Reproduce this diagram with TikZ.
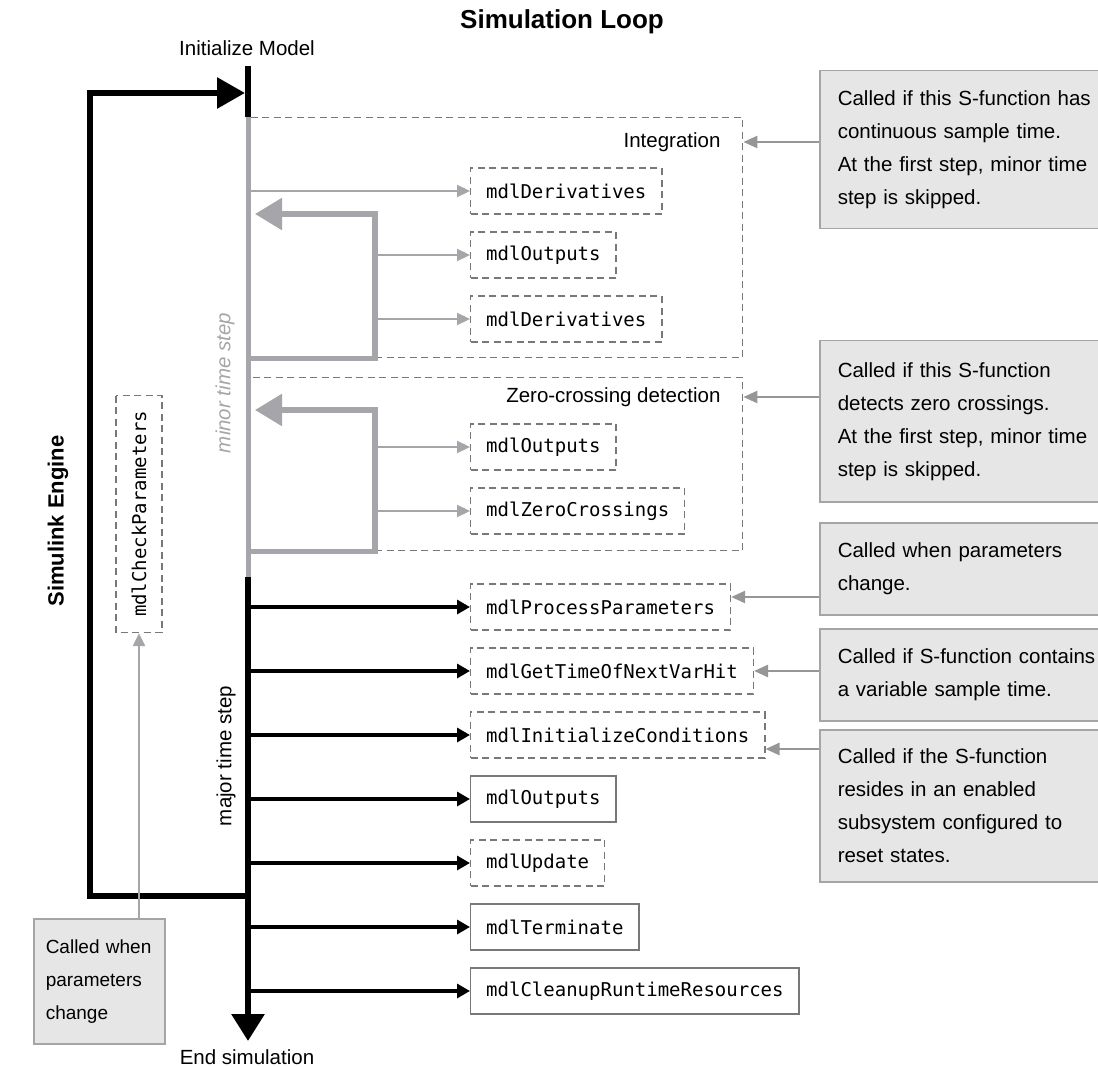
\documentclass[tikz,border=0pt]{standalone}
\usepackage{fontspec}
\setmainfont{Liberation Sans}
\setmonofont{DejaVu Sans Mono}
\usetikzlibrary{arrows.meta}
\definecolor{lgray}{RGB}{166,166,170}
\definecolor{dgray}{RGB}{120,120,120}
\definecolor{ngray}{RGB}{150,150,150}
\definecolor{nfill}{RGB}{230,230,230}
\definecolor{nline}{RGB}{165,165,165}

\begin{document}
\begin{tikzpicture}[x=1pt,y=-1pt,
  every node/.style={font=\fontsize{20.5}{24}\selectfont},
  fbox/.style={draw=dgray, line width=1.4pt, dash pattern=on 7pt off 4.5pt, anchor=west,
    minimum height=46pt, inner xsep=15.5pt, font=\fontsize{19}{22}\ttfamily},
  fboxs/.style={fbox, solid},
  region/.style={draw=dgray, line width=1.4pt, dash pattern=on 7pt off 4.5pt,
    anchor=north west, minimum width=494pt, inner sep=0pt},
  notebox/.style={draw=nline, fill=nfill, line width=1.5pt, anchor=north west, align=left,
    text width=262pt, inner xsep=18pt, font=\fontsize{20.5}{33}\selectfont},
  barrow/.style={line width=3.2pt, -{Triangle[length=13pt,width=14pt]}},
  garrow/.style={lgray, line width=2.2pt, -{Triangle[length=13pt,width=12pt]}},
  narrow/.style={ngray, line width=2.5pt, -{Triangle[length=14pt,width=12pt]}},
  gloop/.style={lgray, line width=5.5pt, -{Triangle[length=27pt,width=31pt]}, shorten >=7pt},
  bigline/.style={line width=6pt},
]
    \useasboundingbox (0,0) rectangle (1098,1067);

    \node[font=\bfseries\fontsize{26}{30}\selectfont] (title) at (562,22) {Simulation Loop};
    \node (init) at (247,48) {Initialize Model};
    \node (endsim) at (247,1057) {End simulation};
    \node[rotate=90, font=\bfseries\fontsize{22}{26}\selectfont] (engine) at (58,521) {Simulink Engine};
    \node[rotate=90, lgray, font=\itshape\fontsize{20.5}{24}\selectfont] (minor) at (225,383) {minor time step};
    \node[rotate=90] (major) at (226,756) {major time step};

    \coordinate (top) at (248,66);
    \coordinate (g1) at (248,117);
    \coordinate (g2) at (248,577);
    \coordinate (bot) at (248,1041);
    \coordinate (ret) at (248,896);
    \coordinate (cnr) at (90,93);
    \coordinate (c1) at (375,214);
    \coordinate (c2) at (375,410);

    \node[region, minimum height=240pt] (integ) at (248,117) {};
    \node[anchor=east] (intl) at (724,142) {Integration};
    \node[region, minimum height=173pt] (zc) at (248,377) {};
    \node[anchor=east] (zcl) at (724,397) {Zero-crossing detection};

    \node[fbox] (d1) at (470,191) {mdlDerivatives};
    \node[fbox] (o1) at (470,255) {mdlOutputs};
    \node[fbox] (d2) at (470,319) {mdlDerivatives};
    \node[fbox] (o2) at (470,447) {mdlOutputs};
    \node[fbox] (zx) at (470,511) {mdlZeroCrossings};
    \node[fbox] (pp) at (470,607) {mdlProcessParameters};
    \node[fbox] (gt) at (470,671) {mdlGetTimeOfNextVarHit};
    \node[fbox] (ic) at (470,735) {mdlInitializeConditions};
    \node[fboxs] (o3) at (470,799) {mdlOutputs};
    \node[fbox] (up) at (470,863) {mdlUpdate};
    \node[fboxs] (tm) at (470,927) {mdlTerminate};
    \node[fboxs] (cl) at (470,991) {mdlCleanupRuntimeResources};
    \node[fbox, rotate=90, anchor=center] (cp) at (139,514) {mdlCheckParameters};

    \node[notebox, minimum height=158pt] (n1) at (819,70) {Called if this S-function has\\continuous sample time.\\At the first step, minor time\\step is skipped.};
    \node[notebox, minimum height=161pt] (n2) at (819,340) {Called if this S-function\\detects zero crossings.\\At the first step, minor time\\step is skipped.};
    \node[notebox, minimum height=92pt] (n3) at (819,522) {Called when parameters\\change.};
    \node[notebox, minimum height=92pt] (n4) at (819,628) {Called if S-function contains\\a variable sample time.};
    \node[notebox, minimum height=152pt] (n5) at (819,729) {Called if the S-function\\resides in an enabled\\subsystem configured to\\reset states.};
    \node[notebox, text width=107pt, inner xsep=12pt, minimum height=125pt,
      font=\fontsize{19}{33}\selectfont] (n6) at (33,918) {Called when\\parameters\\change};

    \draw[bigline] (top) -- (g1);
    \draw[lgray, line width=5pt] (g1) -- (g2);
    \draw[bigline, -{Triangle[length=27pt,width=32pt]}] (g2) -- (bot);
    \draw[bigline, -{Triangle[length=28pt,width=30pt]}, shorten >=3pt] (ret) -| (cnr) -- (top |- cnr);

    \draw[gloop] (integ.south west) -| (c1) -- (g1 |- c1);
    \draw[gloop] (zc.south west) -| (c2) -- (g1 |- c2);

    \draw[garrow] (g1 |- d1) -- (d1.west);
    \draw[garrow] (c1 |- o1) -- (o1.west);
    \draw[garrow] (c1 |- d2) -- (d2.west);
    \draw[garrow] (c2 |- o2) -- (o2.west);
    \draw[garrow] (c2 |- zx) -- (zx.west);
    \foreach \f in {pp,gt,ic,o3,up,tm,cl}
      \draw[barrow] (top |- \f) -- (\f.west);

    \draw[narrow] (n1.west |- intl) -- (integ.east |- intl);
    \draw[narrow] (n2.west |- zcl) -- (zc.east |- zcl);
    \draw[narrow] (n3.west |- 0,597) -- (pp.east |- 0,597);
    \draw[narrow] (n4.west |- gt) -- (gt.east);
    \draw[narrow] (n5.west |- 0,749) -- (ic.east |- 0,749);
    \draw[garrow] (cp |- n6.north) -- (cp.west);
\end{tikzpicture}
\end{document}
